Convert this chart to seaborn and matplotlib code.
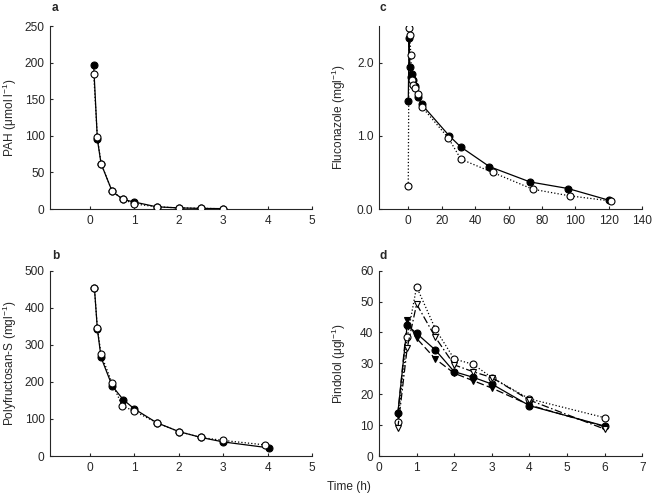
import matplotlib
matplotlib.use("Agg")
import matplotlib.pyplot as plt
import seaborn as sns
import pandas as pd

# ---------------- data ----------------
# Panel a: PAH
pah_t_filled = [0.083, 0.167, 0.25, 0.5, 0.75, 1.0, 1.5, 2.0, 2.5, 3.0]
pah_filled = [197, 95, 62, 24, 13, 9.5, 3, 1.5, 0.8, 0.5]
pah_t_open = [0.083, 0.167, 0.25, 0.5, 0.75, 1.0, 1.5, 2.0, 2.5, 3.0]
pah_open = [185, 98, 62, 24, 13, 7, 3, 1.5, 1.0, 0.3]

# Panel b: Polyfructosan-S
pfs_t_filled = [0.1, 0.167, 0.25, 0.5, 0.75, 1.0, 1.5, 2.0, 2.5, 3.0, 4.03]
pfs_filled = [454, 342, 266, 189, 152, 127, 90, 66, 50, 38, 22]
pfs_t_open = [0.1, 0.167, 0.25, 0.5, 0.73, 1.0, 1.5, 2.0, 2.5, 3.0, 3.94]
pfs_open = [454, 345, 274, 196, 135, 121, 90, 66, 50, 42, 30]

# Panel c: Fluconazole
flu_t_filled = [0, 0.5, 1, 1.5, 2, 3, 4, 6, 8, 24.5, 31.3, 48.5, 72.8, 95.5, 120]
flu_filled = [1.47, 2.33, 1.94, 1.80, 1.85, 1.76, 1.68, 1.53, 1.43, 1.00, 0.85, 0.58, 0.37, 0.28, 0.12]
flu_t_open = [0, 0.5, 1, 1.5, 2, 3, 4, 6, 8, 24, 31.5, 50.5, 74.5, 96.5, 121]
flu_open = [0.31, 2.47, 2.38, 2.11, 1.76, 1.70, 1.65, 1.57, 1.40, 0.97, 0.68, 0.50, 0.27, 0.18, 0.11]

# Panel d: Pindolol
pin_t = [0.5, 0.75, 1.0, 1.5, 2.0, 2.5, 3.0, 4.0, 6.0]
pin_filled_circle = [13.8, 42.4, 39.7, 34.3, 27.3, 25.5, 23.3, 16.3, 9.7]
pin_open_circle = [10.9, 38.4, 54.8, 41.1, 31.4, 29.7, 25.4, 18.5, 12.4]
pin_filled_tri = [13.4, 44.0, 38.1, 31.4, 26.8, 24.4, 22.0, 16.5, 9.5]
pin_open_tri = [9.0, 35.0, 49.2, 38.4, 29.5, 27.3, 25.4, 18.1, 8.7]

# ---------------- style ----------------
sns.set_style("ticks")
plt.rcParams["font.family"] = ["Liberation Sans", "DejaVu Sans"]
plt.rcParams["mathtext.fontset"] = "custom"
plt.rcParams["mathtext.rm"] = "Liberation Sans"
plt.rcParams["mathtext.it"] = "Liberation Sans:italic"
plt.rcParams["mathtext.bf"] = "Liberation Sans:bold"

FS = 8.6
fig = plt.figure(figsize=(6.53, 4.94), dpi=100)

W, H = 653.0, 494.0
def pos(l, r, t, b):
    return [l / W, 1 - b / H, (r - l) / W, (b - t) / H]

ax_a = fig.add_axes(pos(50, 312, 26, 209))
ax_c = fig.add_axes(pos(379, 642.3, 26, 209))
ax_b = fig.add_axes(pos(50, 312, 270.7, 456))
ax_d = fig.add_axes(pos(379, 642.3, 270.7, 456))

MS = 5.0
LW = 0.9

def series(ax, t, y, filled, ls, marker="o", dashes=None, z=2):
    df = pd.DataFrame({"t": t, "y": y})
    kw = dict(color="black", linewidth=LW, marker=marker, markersize=MS,
              markeredgecolor="black", markeredgewidth=0.8,
              markerfacecolor="black" if filled else "white", zorder=z)
    if dashes is not None:
        kw["dashes"] = dashes
    else:
        kw["linestyle"] = ls
    sns.lineplot(data=df, x="t", y="y", ax=ax, sort=False, estimator=None, **kw)

# a
series(ax_a, pah_t_filled, pah_filled, True, "-")
series(ax_a, pah_t_open, pah_open, False, ":", z=3)
# b
series(ax_b, pfs_t_filled, pfs_filled, True, "-")
series(ax_b, pfs_t_open, pfs_open, False, ":", z=3)
# c
series(ax_c, flu_t_filled, flu_filled, True, "-")
series(ax_c, flu_t_open, flu_open, False, ":", z=3)
# d
series(ax_d, pin_t, pin_filled_circle, True, "-")
series(ax_d, pin_t, pin_open_circle, False, ":", z=3)
series(ax_d, pin_t, pin_filled_tri, True, None, marker="v", dashes=(6, 2.5))
series(ax_d, pin_t, pin_open_tri, False, None, marker="v", dashes=(6, 2, 1.2, 2), z=3)

def fmt(ax, xlim, xticks, ylim, yticks, yticklabels, ylabel):
    ax.set_xlim(*xlim)
    ax.set_ylim(*ylim)
    ax.set_xticks(xticks)
    ax.set_yticks(yticks)
    ax.set_yticklabels(yticklabels)
    ax.set_xlabel("")
    ax.set_ylabel(ylabel, fontsize=FS)
    ax.yaxis.label.set_va("center")
    ax.yaxis.set_label_coords(-0.152, 0.5)
    sns.despine(ax=ax)
    for s in ("left", "bottom"):
        ax.spines[s].set_linewidth(0.8)
    ax.tick_params(direction="in", length=2.5, width=0.8, labelsize=FS, pad=4)
    if ax.get_legend():
        ax.get_legend().remove()

fmt(ax_a, (-0.9, 5), [0, 1, 2, 3, 4, 5], (0, 250), [0, 50, 100, 150, 200, 250],
    ["0", "50", "100", "150", "200", "250"], r"PAH (μmol l$^{-1}$)")
fmt(ax_b, (-0.9, 5), [0, 1, 2, 3, 4, 5], (0, 500), [0, 100, 200, 300, 400, 500],
    ["0", "100", "200", "300", "400", "500"], r"Polyfructosan-S (mgl$^{-1}$)")
fmt(ax_c, (-17.5, 140), [0, 20, 40, 60, 80, 100, 120, 140], (0, 2.5), [0, 1, 2],
    ["0.0", "1.0", "2.0"], r"Fluconazole (mgl$^{-1}$)")
fmt(ax_d, (0, 7), [0, 1, 2, 3, 4, 5, 6, 7], (0, 60), [0, 10, 20, 30, 40, 50, 60],
    ["0", "10", "20", "30", "40", "50", "60"], r"Pindolol (μgl$^{-1}$)")

for lab, x, y in [("a", 52, 8), ("c", 380, 8), ("b", 52, 256), ("d", 380, 256)]:
    fig.text(x / W, 1 - y / H, lab, fontsize=FS, fontweight="bold", ha="left", va="center")

fig.text(349 / W, 1 - 487 / H, "Time (h)", fontsize=FS, ha="center", va="center")

fig.savefig("out.png", dpi=100)
